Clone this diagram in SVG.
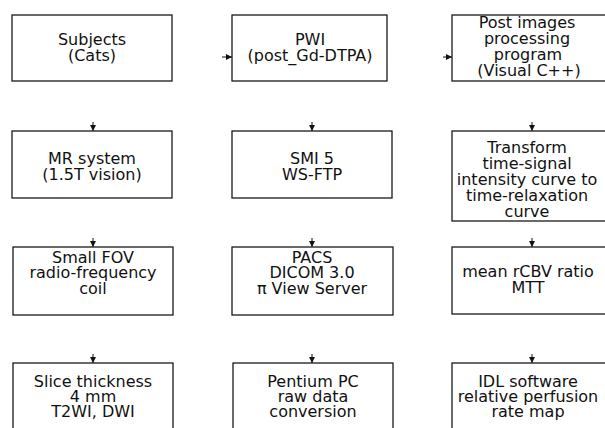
<svg xmlns="http://www.w3.org/2000/svg" width="605" height="428" viewBox="0 0 605 428">
<defs>
<marker id="ah" markerWidth="6" markerHeight="6" refX="6" refY="3" orient="auto" markerUnits="userSpaceOnUse">
<path d="M0,0 L6,3 L0,6 z" fill="#111"/>
</marker>
<style>
.box{fill:#fff;stroke:#1a1a1a;stroke-width:1.3}
.t{font-family:"DejaVu Sans",sans-serif;font-size:16px;fill:#111;text-anchor:middle}
.c{stroke:#111;stroke-width:1;fill:none;marker-end:url(#ah)}
</style>
</defs>
<rect width="605" height="428" fill="#fff"/>
<g id="connectors">
<line class="c" x1="222" y1="57" x2="232" y2="57"/>
<line class="c" x1="443" y1="57" x2="452" y2="57"/>
<line class="c" x1="93" y1="122" x2="93" y2="131"/>
<line class="c" x1="312" y1="122" x2="312" y2="131"/>
<line class="c" x1="532" y1="122" x2="532" y2="131"/>
<line class="c" x1="93" y1="238" x2="93" y2="247"/>
<line class="c" x1="312" y1="238" x2="312" y2="247"/>
<line class="c" x1="532" y1="238" x2="532" y2="247"/>
<line class="c" x1="93" y1="354" x2="93" y2="363"/>
<line class="c" x1="312" y1="354" x2="312" y2="363"/>
<line class="c" x1="532" y1="354" x2="532" y2="363"/>
</g>
<g id="subjects">
<rect class="box" x="12" y="15" width="160" height="66"/>
<text class="t" x="92" y="45">Subjects</text>
<text class="t" x="92" y="61">(Cats)</text>
</g>
<g id="pwi">
<rect class="box" x="232" y="15" width="155" height="66"/>
<text class="t" x="310" y="45">PWI</text>
<text class="t" x="310" y="61">(post_Gd-DTPA)</text>
</g>
<g id="post">
<rect class="box" x="452" y="15" width="156" height="66"/>
<text class="t" x="527" y="28">Post images</text>
<text class="t" x="527" y="44">processing</text>
<text class="t" x="528" y="60">program</text>
<text class="t" x="529" y="76">(Visual C++)</text>
</g>
<g id="mr">
<rect class="box" x="12" y="131" width="160" height="67"/>
<text class="t" x="92" y="164">MR system</text>
<text class="t" x="92" y="180">(1.5T vision)</text>
</g>
<g id="smi">
<rect class="box" x="232" y="131" width="160" height="67"/>
<text class="t" x="312" y="164">SMI 5</text>
<text class="t" x="312" y="180">WS-FTP</text>
</g>
<g id="transform">
<rect class="box" x="452" y="131" width="156" height="90"/>
<text class="t" x="527" y="153">Transform</text>
<text class="t" x="527" y="169">time-signal</text>
<text class="t" x="527" y="185">intensity curve to</text>
<text class="t" x="527" y="201">time-relaxation</text>
<text class="t" x="527" y="217">curve</text>
</g>
<g id="smallfov">
<rect class="box" x="13" y="247" width="160" height="68"/>
<text class="t" x="93" y="263">Small FOV</text>
<text class="t" x="93" y="278">radio-frequency</text>
<text class="t" x="93" y="294">coil</text>
</g>
<g id="pacs">
<rect class="box" x="232" y="247" width="161" height="68"/>
<text class="t" x="312" y="263">PACS</text>
<text class="t" x="312" y="278">DICOM 3.0</text>
<text class="t" x="312" y="294">π View Server</text>
</g>
<g id="rcbv">
<rect class="box" x="452" y="247" width="156" height="67"/>
<text class="t" x="528" y="277">mean rCBV ratio</text>
<text class="t" x="528" y="293">MTT</text>
</g>
<g id="slice">
<rect class="box" x="13" y="363" width="160" height="70"/>
<text class="t" x="93" y="387">Slice thickness</text>
<text class="t" x="93" y="402">4 mm</text>
<text class="t" x="93" y="417">T2WI, DWI</text>
</g>
<g id="pentium">
<rect class="box" x="233" y="363" width="160" height="70"/>
<text class="t" x="313" y="387">Pentium PC</text>
<text class="t" x="313" y="402">raw data</text>
<text class="t" x="313" y="417">conversion</text>
</g>
<g id="idl">
<rect class="box" x="452" y="363" width="156" height="70"/>
<text class="t" x="528" y="387">IDL software</text>
<text class="t" x="528" y="402">relative perfusion</text>
<text class="t" x="528" y="417">rate map</text>
</g>
</svg>
